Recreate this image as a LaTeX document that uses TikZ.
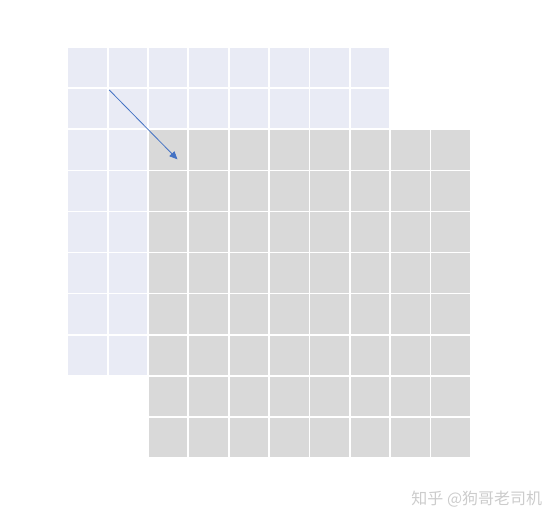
\documentclass[tikz,border=0pt]{standalone}
\usepackage{fontspec}
\newfontfamily\cjk{Noto Sans CJK SC}
\usetikzlibrary{arrows.meta}
\definecolor{cellblue}{HTML}{E9EBF5}
\definecolor{cellgray}{HTML}{D9D9D9}
\definecolor{arrowblue}{HTML}{4472C4}
\begin{document}
\begin{tikzpicture}[x=40.35pt, y=-41.05pt, >={Triangle[length=8pt,width=7pt]}]
    \useasboundingbox (-1.668,-1.152) rectangle (12.186,11.637);

    % input grid
    \foreach \i in {0,...,7} {
        \foreach \j in {0,...,7} {
            \draw[white, line width=1.8pt, fill=cellblue] (\i,\j) rectangle ++(1,1);
        }
    }

    % shifted grid
    \foreach \i in {2,...,9} {
        \foreach \j in {2,...,9} {
            \draw[white, line width=1.8pt, fill=cellgray] (\i,\j) rectangle ++(1,1);
        }
    }

    \coordinate (from) at (1.04,1.04);
    \coordinate (to) at (2.73,2.73);
    \draw[->, arrowblue, line width=0.8pt] (from) -- (to);

    \node[text=gray!40, font=\cjk\fontsize{16}{16}\selectfont] (mark) at (10.15,11.0) {知乎 @狗哥老司机};
\end{tikzpicture}
\end{document}
